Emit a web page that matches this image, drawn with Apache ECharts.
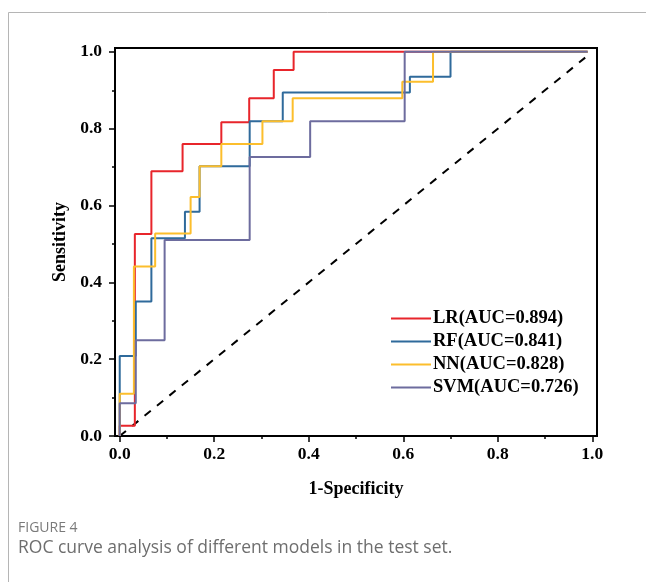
<!DOCTYPE html>
<html>
<head>
<meta charset="utf-8">
<script src="https://cdn.jsdelivr.net/npm/echarts@6/dist/echarts.min.js"></script>
<style>
html,body{margin:0;padding:0;background:#fff;}
#chart{width:646px;height:582px;}
</style>
</head>
<body>
<div id="chart"></div>
<script>
// ---- data ----
const seriesNames = ['LR(AUC=0.894)', 'RF(AUC=0.841)', 'NN(AUC=0.828)', 'SVM(AUC=0.726)'];
const lrFpr  = [0, 0, 0.032, 0.067, 0.133, 0.215, 0.274, 0.326, 0.368, 0.99];
const lrTpr  = [0, 0.027, 0.526, 0.689, 0.760, 0.817, 0.879, 0.953, 1.0, 1.0];
const rfFpr  = [0, 0, 0.034, 0.067, 0.138, 0.169, 0.275, 0.345, 0.614, 0.700, 0.99];
const rfTpr  = [0, 0.208, 0.350, 0.515, 0.584, 0.702, 0.819, 0.894, 0.935, 1.0, 1.0];
const nnFpr  = [0, 0, 0.030, 0.075, 0.150, 0.169, 0.215, 0.302, 0.366, 0.598, 0.663, 0.99];
const nnTpr  = [0, 0.110, 0.441, 0.527, 0.622, 0.702, 0.760, 0.819, 0.879, 0.922, 1.0, 1.0];
const svmFpr = [0, 0, 0.034, 0.095, 0.275, 0.403, 0.603, 0.99];
const svmTpr = [0, 0.085, 0.249, 0.510, 0.726, 0.819, 1.0, 1.0];
const diagX  = [0, 0.985];
const diagY  = [0, 0.985];
const majorTicks = [0, 0.2, 0.4, 0.6, 0.8, 1.0];
const minorTicks = [0.1, 0.3, 0.5, 0.7, 0.9];
const xTitle = '1-Specificity';
const yTitle = 'Sensitivity';
const figLabel = 'FIGURE 4';
const figCaption = 'ROC curve analysis of different models in the test set.';

// ---- build ----
const zip = (xs, ys) => xs.map((x, i) => [x, ys[i]]);
const colors = ['#E8252B', '#2F6A9B', '#FCBE2C', '#6D6C9E'];
const curves = [[lrFpr, lrTpr], [rfFpr, rfTpr], [nnFpr, nnTpr], [svmFpr, svmTpr]];
const serif = '"Liberation Serif", "Times New Roman", serif';

const chart = echarts.init(document.getElementById('chart'), null, {renderer: 'canvas'});

function makeAxis(isX, ticks, len, showLabel, showLine, extra) {
  return Object.assign({
    type: 'value',
    min: isX ? -0.01 : 0,
    max: 1.01,
    axisLine: {show: showLine, onZero: false, lineStyle: {color: '#000', width: 2}},
    axisTick: {show: true, inside: false, length: len, customValues: ticks, lineStyle: {color: '#000', width: 1.5}},
    axisLabel: {show: showLabel, customValues: ticks, formatter: v => v.toFixed(1),
      fontFamily: serif, fontWeight: 'bold', fontSize: 17.5, color: '#000', margin: isX ? 9 : 13},
    splitLine: {show: false},
    minorTick: {show: false}
  }, extra || {});
}

const series = curves.map((c, i) => ({
  name: seriesNames[i],
  type: 'line',
  step: 'end',
  data: zip(c[0], c[1]),
  showSymbol: false,
  symbol: 'none',
  lineStyle: {color: colors[i], width: 2},
  itemStyle: {color: colors[i]},
  z: 3 + i
}));
series.push({
  name: 'ref',
  type: 'line',
  data: zip(diagX, diagY),
  showSymbol: false,
  symbol: 'none',
  lineStyle: {color: '#000', width: 2, type: [8, 8]},
  z: 2
});

chart.setOption({
  animation: false,
  backgroundColor: '#fff',
  grid: {left: 115, right: 49, top: 48, bottom: 146, show: true, borderColor: '#000', borderWidth: 2, containLabel: false},
  xAxis: [
    makeAxis(true, majorTicks, 6, true, true, {name: xTitle, nameLocation: 'middle', nameGap: 44,
      nameTextStyle: {fontFamily: serif, fontWeight: 'bold', fontSize: 18, color: '#000'}}),
    makeAxis(true, minorTicks, 3, false, false, {position: 'bottom'})
  ],
  yAxis: [
    makeAxis(false, majorTicks, 6, true, true, {name: yTitle, nameLocation: 'middle', nameGap: 41,
      nameTextStyle: {fontFamily: serif, fontWeight: 'bold', fontSize: 18, color: '#000'}}),
    makeAxis(false, minorTicks, 3, false, false, {position: 'left'})
  ],
  legend: {
    data: seriesNames,
    orient: 'vertical',
    left: 386,
    top: 304,
    itemWidth: 40,
    itemHeight: 14,
    itemGap: 4,
    icon: 'path://M0,0 L40,0 L40,2 L0,2 Z',
    textStyle: {fontFamily: serif, fontWeight: 'bold', fontSize: 18.5, color: '#000', padding: [0, 0, 0, -3]}
  },
  series: series,
  graphic: [
    {type: 'polyline', silent: true, shape: {points: [[8.5, 582], [8.5, 12.5], [646, 12.5]]},
      style: {stroke: '#b5b5b5', lineWidth: 1, fill: null}},
    {type: 'text', left: 18, top: 521, silent: true,
      style: {text: figLabel, fontFamily: '"Open Sans", sans-serif', fontSize: 14, fill: '#7a7a7a'}},
    {type: 'text', left: 18, top: 539, silent: true,
      style: {text: figCaption, fontFamily: '"Open Sans", sans-serif', fontSize: 17.5, fill: '#6e6e6e'}}
  ]
});
</script>
</body>
</html>
